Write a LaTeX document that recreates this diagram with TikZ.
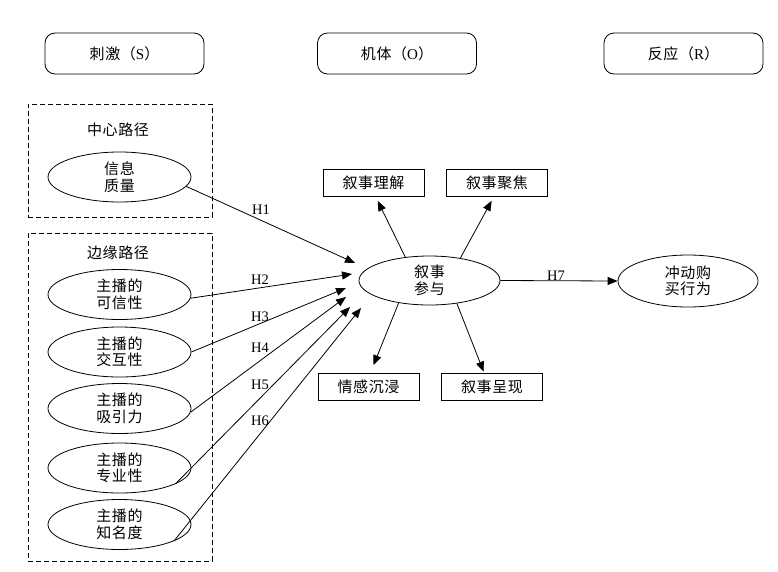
\documentclass[tikz,border=0pt]{standalone}
\usepackage{fontspec}
\setmainfont{Liberation Serif}
\newfontfamily\cjk[LetterSpace=4]{Noto Sans CJK SC}
\usetikzlibrary{arrows.meta,shapes.geometric}
\begin{document}
\begin{tikzpicture}[x=1pt,y=-1pt,
  cjkf/.style={font=\cjk\fontsize{15}{16.5}\selectfont},
  rbox/.style={draw, rounded corners=10pt, minimum width=159pt, minimum height=41pt, inner sep=0pt, cjkf, line width=0.8pt},
  dbox/.style={draw, dash pattern=on 5pt off 3pt, line width=0.8pt, inner sep=0pt},
  ell/.style={draw, ellipse, inner sep=0pt, minimum width=143pt, minimum height=50pt, align=center, cjkf, line width=0.8pt},
  sbox/.style={draw, minimum width=101pt, minimum height=27pt, inner sep=0pt, cjkf, line width=0.8pt},
  ttl/.style={cjkf, inner sep=0pt},
  lab/.style={font=\fontsize{14.5}{16}\selectfont, inner sep=0pt},
  arr/.style={-{Triangle[length=10pt,width=8pt]}, line width=0.8pt}
]
\useasboundingbox (0,0) rectangle (778,571);

% header boxes
\node[rbox] (S) at (124.5,53.5) {刺激（{\rmfamily S}）};
\node[rbox] (O) at (397,53.5) {机体（{\rmfamily O}）};
\node[rbox] (R) at (683.5,53.5) {反应（{\rmfamily R}）};

% dashed groups
\node[dbox, minimum width=184pt, minimum height=113pt] (g1) at (120,160.5) {};
\node[dbox, minimum width=184pt, minimum height=328pt] (g2) at (120,397) {};
\node[ttl] (g1t) at (118,130) {中心路径};
\node[ttl] (g2t) at (118,253) {边缘路径};

% stimulus ellipses
\node[ell] (info)  at (119.5,177)   {信息\\质量};
\node[ell] (cred)  at (119.5,294.5) {主播的\\可信性};
\node[ell] (inter) at (119.5,352)   {主播的\\交互性};
\node[ell] (attr)  at (119.5,408.5) {主播的\\吸引力};
\node[ell] (prof)  at (119.5,468)   {主播的\\专业性};
\node[ell] (fame)  at (119.5,524.5) {主播的\\知名度};

% organism
\node[ell, minimum width=141pt, minimum height=49pt] (N) at (429.5,280.5) {叙事\\参与};
\node[sbox] (U) at (373.5,182.5) {叙事理解};
\node[sbox] (F) at (497,182.5) {叙事聚焦};
\node[sbox] (E) at (368.5,386.5) {情感沉浸};
\node[sbox] (P) at (492,386.5) {叙事呈现};

% response
\node[ell, minimum width=140pt, minimum height=52pt] (I) at (688,281) {冲动购\\买行为};

% arrow tips near the central ellipse
\coordinate (t1) at (355,263);
\coordinate (t2) at (352,274);
\coordinate (t3) at (346,288);
\coordinate (t4) at (346,297);
\coordinate (t5) at (350,307);
\coordinate (t6) at (361,308);

\draw[arr] (info.-8) -- (t1);
\draw[arr] (cred.-3) -- (t2);
\draw[arr] (inter.east) -- (t3);
\draw[arr] (attr.-3) -- (t4);
\draw[arr] (prof.-16) -- (t5);
\draw[arr] (fame.-17) -- (t6);

\node[lab] (h1) at (261,210) {H1};
\node[lab] (h2) at (260,280) {H2};
\node[lab] (h3) at (260,316.5) {H3};
\node[lab] (h4) at (260,347.5) {H4};
\node[lab] (h5) at (260,384.5) {H5};
\node[lab] (h6) at (260,420.5) {H6};

% organism dimensions
\draw[arr, shorten >=5pt] (N.136) -- ([xshift=2pt]U.south);
\draw[arr, shorten >=5pt] (N.36) -- ([xshift=-3pt]F.south);
\draw[arr, shorten >=8pt] (N.-144) -- ([xshift=2pt]E.north);
\draw[arr, shorten >=1pt] (N.-40) -- ([xshift=-8pt]P.north);

% H7
\draw[arr] (N.east) -- (I.west);
\node[lab] (h7) at (556,275.5) {H7};
\end{tikzpicture}
\end{document}
